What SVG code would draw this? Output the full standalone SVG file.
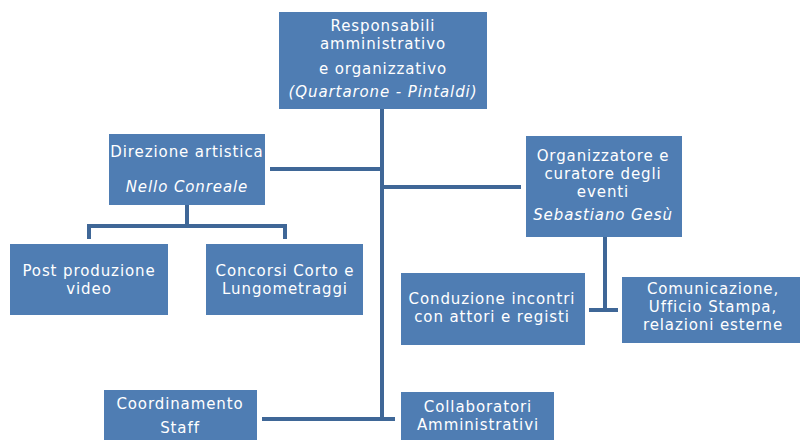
<svg xmlns="http://www.w3.org/2000/svg" width="800" height="440" viewBox="0 0 800 440">
<style>
.box{fill:#4F7DB3;}
.t{font-family:"DejaVu Sans","Verdana",sans-serif;font-size:15px;letter-spacing:0.9px;fill:#fff;text-anchor:middle;}
.i{font-style:italic;}
.c{stroke:#3F6797;stroke-width:4;fill:none;}
</style>
<rect width="800" height="440" fill="#fff"/>
<g id="connectors">
<path class="c" d="M382 109 V417"/>
<path class="c" d="M270 169 H382"/>
<path class="c" d="M382 187 H521"/>
<path class="c" d="M262 419 H395"/>
<path class="c" d="M187 205 V226 M89 239 V226 H285 V239"/>
<path class="c" d="M605 237 V310 M589 310 H618"/>
</g>
<g id="top">
<rect class="box" x="279" y="12" width="208" height="97"/>
<text class="t" x="383" y="31">Responsabili</text>
<text class="t" x="383" y="49">amministrativo</text>
<text class="t" x="383" y="74">e organizzativo</text>
<text class="t i" x="383" y="97">(Quartarone - Pintaldi)</text>
</g>
<g id="direzione">
<rect class="box" x="109" y="134" width="156" height="71"/>
<text class="t" x="187" y="157">Direzione artistica</text>
<text class="t i" x="187" y="192">Nello Conreale</text>
</g>
<g id="organizzatore">
<rect class="box" x="526" y="136" width="156" height="101"/>
<text class="t" x="603" y="161">Organizzatore e</text>
<text class="t" x="603" y="179">curatore degli</text>
<text class="t" x="603" y="197">eventi</text>
<text class="t i" x="603" y="220">Sebastiano Gesù</text>
</g>
<g id="postproduzione">
<rect class="box" x="10" y="244" width="158" height="71"/>
<text class="t" x="89" y="276">Post produzione</text>
<text class="t" x="89" y="294">video</text>
</g>
<g id="concorsi">
<rect class="box" x="206" y="244" width="157" height="71"/>
<text class="t" x="285" y="276">Concorsi Corto e</text>
<text class="t" x="285" y="294">Lungometraggi</text>
</g>
<g id="conduzione">
<rect class="box" x="401" y="273" width="184" height="72"/>
<text class="t" x="492" y="304">Conduzione incontri</text>
<text class="t" x="492" y="322">con attori e registi</text>
</g>
<g id="comunicazione">
<rect class="box" x="622" y="277" width="178" height="66"/>
<text class="t" x="713" y="294">Comunicazione,</text>
<text class="t" x="713" y="312">Ufficio Stampa,</text>
<text class="t" x="713" y="330">relazioni esterne</text>
</g>
<g id="coordinamento">
<rect class="box" x="104" y="390" width="153" height="50"/>
<text class="t" x="180" y="409">Coordinamento</text>
<text class="t" x="180" y="433">Staff</text>
</g>
<g id="collaboratori">
<rect class="box" x="401" y="392" width="153" height="48"/>
<text class="t" x="478" y="412">Collaboratori</text>
<text class="t" x="478" y="430">Amministrativi</text>
</g>
</svg>
